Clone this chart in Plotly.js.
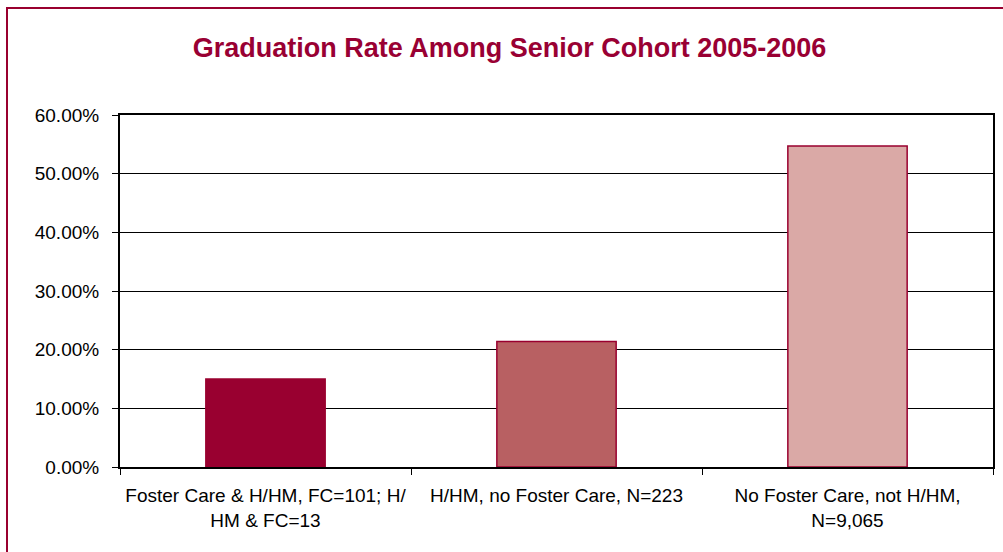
<!DOCTYPE html>
<html><head><meta charset="utf-8">
<script src="https://cdn.plot.ly/plotly-3.0.1.min.js"></script>
<style>
html,body{margin:0;padding:0;background:#fff;overflow:hidden;}
#wrap{position:relative;width:1003px;height:552px;overflow:hidden;}
#chart{position:absolute;left:0;top:0;width:1003px;height:552px;}
#frame{position:absolute;left:6px;top:7px;width:1010px;height:560px;border:2px solid #99002F;box-sizing:border-box;pointer-events:none;}
</style></head>
<body>
<div id="wrap"><div id="chart"></div><div id="frame"></div></div>
<script>
const categories = [
  "Foster Care & H/HM, FC=101; H/<br>HM & FC=13",
  "H/HM, no Foster Care, N=223",
  "No Foster Care, not H/HM,<br>N=9,065"
];
const rates = [0.150, 0.214, 0.547];
const barColors = ["#990030", "#B86062", "#DAA9A6"];
const yTicks = [0, 0.1, 0.2, 0.3, 0.4, 0.5, 0.6];

const trace = {
  type: "bar",
  x: categories,
  y: rates,
  marker: {color: barColors, line: {color: "#99002F", width: 1.5}},
  hoverinfo: "none"
};

const layout = {
  width: 1003, height: 552,
  paper_bgcolor: "rgba(0,0,0,0)",
  plot_bgcolor: "#fff",
  margin: {l: 120, r: 10, t: 115, b: 85},
  showlegend: false,
  bargap: 0.59,
  title: {
    text: "<b>Graduation Rate Among Senior Cohort 2005-2006</b>",
    font: {family: "Liberation Sans, Arial, sans-serif", size: 27, color: "#990033"},
    x: 0.508, xanchor: "center", y: 0.913, yanchor: "middle"
  },
  font: {family: "Liberation Sans, Arial, sans-serif", size: 19, color: "#000"},
  xaxis: {
    type: "category",
    tickson: "boundaries",
    ticks: "outside", ticklen: 6, tickwidth: 1, tickcolor: "#000",
    showline: true, linecolor: "#000", linewidth: 2, mirror: true,
    showgrid: false,
    tickfont: {size: 19, color: "#000"},
    ticklabelstandoff: 10,
    fixedrange: true
  },
  yaxis: {
    range: [0, 0.6],
    tickvals: yTicks,
    tickformat: ".2%",
    ticks: "outside", ticklen: 6, tickwidth: 1, tickcolor: "#000",
    showline: true, linecolor: "#000", linewidth: 2, mirror: true,
    showgrid: true, gridcolor: "#000", gridwidth: 1,
    zeroline: false,
    tickfont: {size: 19, color: "#000"},
    ticklabelstandoff: 9,
    fixedrange: true
  }
};

Plotly.newPlot("chart", [trace], layout, {staticPlot: true, displayModeBar: false});
</script>
</body></html>
